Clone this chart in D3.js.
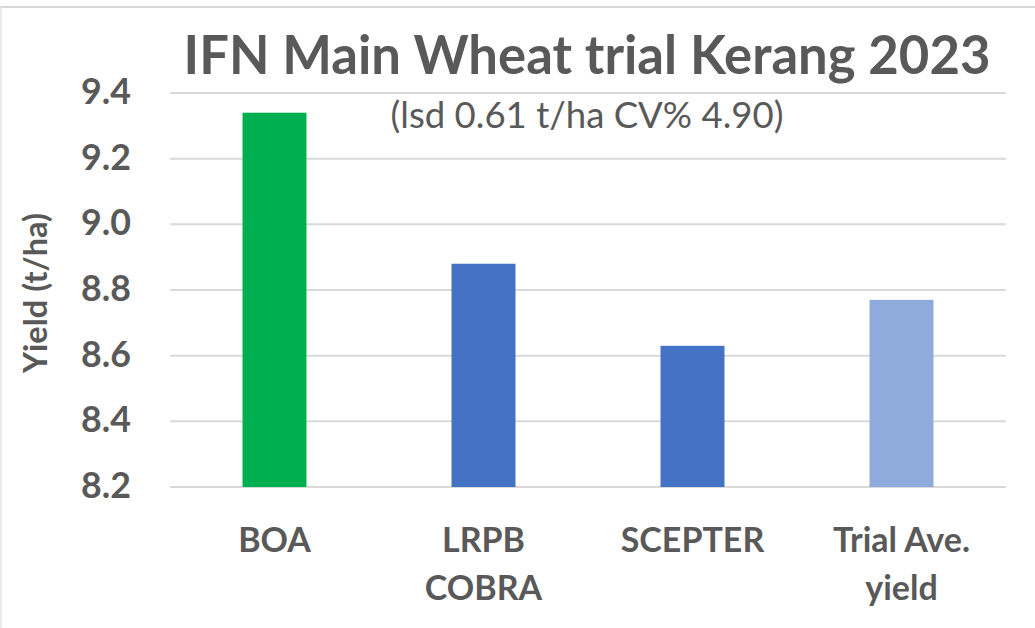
<!DOCTYPE html>
<html>
<head>
  <meta charset="utf-8">
  <script src="https://cdn.jsdelivr.net/npm/d3@7"></script>
  <style>
    body { margin: 0; background: #fff; }
    text { font-family: Lato, "Open Sans", sans-serif; fill: #595959; }
  </style>
</head>
<body>
  <svg id="chart" width="1035" height="628"></svg>
  <script>
    // data
    var categories = ['BOA', 'LRPB COBRA', 'SCEPTER', 'Trial Ave. yield']
    var labelLines = [['BOA'], ['LRPB', 'COBRA'], ['SCEPTER'], ['Trial Ave.', 'yield']]
    var yields = [9.34, 8.88, 8.63, 8.77]
    var barColors = ['#00b050', '#4472c4', '#4472c4', '#8faadc']
    var yTicks = [8.2, 8.4, 8.6, 8.8, 9.0, 9.2, 9.4]

    var svg = d3.select('#chart')

    // frame lines (top + left)
    svg.append('line').attr('x1', 0).attr('x2', 1035).attr('y1', 7).attr('y2', 7)
      .style('stroke', '#d9d9d9').style('stroke-width', 2)
    svg.append('line').attr('x1', 1).attr('x2', 1).attr('y1', 7).attr('y2', 628)
      .style('stroke', '#e3e3e3').style('stroke-width', 1.5)

    var x = d3.scaleBand()
      .domain(categories)
      .range([170, 1006])
      .paddingInner(0.694)
      .paddingOuter(0.347)

    var y = d3.scaleLinear()
      .domain([8.2, 9.4])
      .range([487, 93])

    // shrink/grow a text so it takes a given width
    function fitWidth(sel, target) {
      var fs = parseFloat(sel.style('font-size'))
      var w = sel.node().getComputedTextLength()
      sel.style('font-size', (fs * target / w) + 'px')
    }

    // gridlines
    svg.append('g')
      .selectAll('line')
      .data(yTicks)
      .join('line')
      .attr('x1', 170).attr('x2', 1006)
      .attr('y1', d => y(d)).attr('y2', d => y(d))
      .style('stroke', '#d9d9d9').style('stroke-width', 2)

    // y axis labels
    var tickLabels = svg.append('g')
      .selectAll('text')
      .data(yTicks)
      .join('text')
      .attr('x', 131)
      .attr('y', d => y(d) + 11)
      .attr('text-anchor', 'end')
      .style('font-weight', 'bold')
      .style('font-size', '30px')
      .text(d => d3.format('.1f')(d))
    // size them so "9.4" is about 50px wide, as in the picture
    var probe = tickLabels.filter(d => d === 9.4)
    fitWidth(probe, 50)
    tickLabels.style('font-size', probe.style('font-size'))

    // bars
    svg.append('g')
      .selectAll('rect')
      .data(yields)
      .join('rect')
      .attr('x', (d, i) => x(categories[i]))
      .attr('width', x.bandwidth())
      .attr('y', d => y(d))
      .attr('height', d => y(8.2) - y(d))
      .style('fill', (d, i) => barColors[i])

    // category labels
    var cat = svg.append('g')
      .selectAll('text')
      .data(labelLines)
      .join('text')
      .attr('text-anchor', 'middle')
      .style('font-weight', 'bold')
      .style('font-size', '34px')
      .attr('transform', (d, i) => 'translate(' + (x(categories[i]) + x.bandwidth() / 2) + ',552)')
    cat.selectAll('tspan')
      .data(d => d)
      .join('tspan')
      .attr('x', 0)
      .attr('y', (d, j) => j * 48)
      .text(d => d)

    // axis title
    svg.append('text')
      .attr('transform', 'translate(47,293) rotate(-90)')
      .attr('text-anchor', 'middle')
      .style('font-weight', 'bold')
      .style('font-size', '22px')
      .text('Yield (t/ha)')
      .call(fitWidth, 160)

    // chart title
    svg.append('text')
      .attr('x', 587).attr('y', 74)
      .attr('text-anchor', 'middle')
      .style('font-weight', 'bold')
      .style('font-size', '48px')
      .text('IFN Main Wheat trial Kerang 2023')
      .call(fitWidth, 807)

    svg.append('text')
      .attr('x', 587).attr('y', 128)
      .attr('text-anchor', 'middle')
      .style('font-size', '30px')
      .text('(lsd 0.61 t/ha CV% 4.90)')
      .call(fitWidth, 393)
  </script>
</body>
</html>
